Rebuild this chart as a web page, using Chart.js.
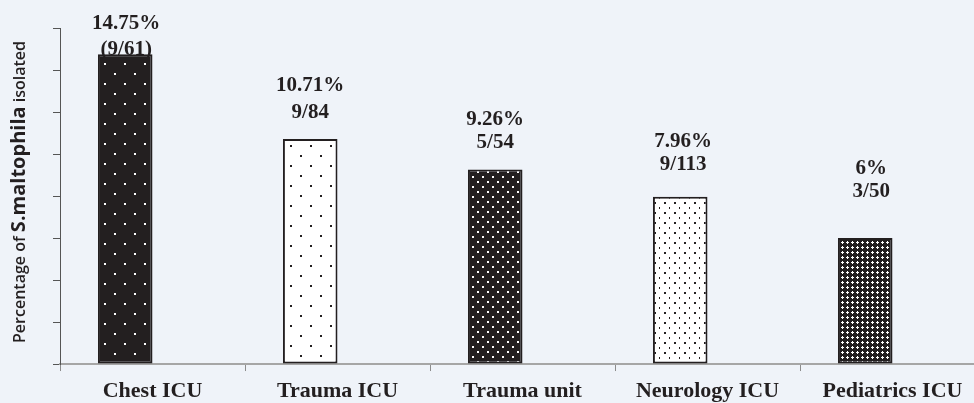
<!DOCTYPE html>
<html lang="en">
<head>
    <meta charset="UTF-8">
    <title>S. maltophila by unit</title>
    <script src="https://cdn.jsdelivr.net/npm/chart.js"></script>
    <style>
        html, body {
            margin: 0;
            padding: 0;
            background-color: #eff3f9;
            overflow: hidden;
        }
        .chart-box {
            position: absolute;
            left: 0;
            top: 0;
            width: 990px;
            height: 411px;
        }
    </style>
</head>
<body>
    <div class="chart-box">
        <canvas id="unitChart"></canvas>
    </div>

    <script>
        // data
        const categories = ['Chest ICU', 'Trauma ICU', 'Trauma unit', 'Neurology ICU', 'Pediatrics ICU'];
        const percentValues = [14.75, 10.71, 9.26, 7.96, 6];
        const percentLabels = ['14.75%', '10.71%', '9.26%', '7.96%', '6%'];
        const countLabels = ['(9/61)', '9/84', '5/54', '9/113', '3/50'];
        const yTicks = { min: 0, max: 16, step: 2 };

        const ink = '#231f20';

        // fill patterns, one per bar
        function makePattern(w, h, bg, fg, dots, size) {
            const c = document.createElement('canvas');
            c.width = w;
            c.height = h;
            const g = c.getContext('2d');
            g.fillStyle = bg;
            g.fillRect(0, 0, w, h);
            g.fillStyle = fg;
            dots.forEach(d => g.fillRect(d[0], d[1], size, size));
            return g.createPattern(c, 'repeat');
        }

        const patterns = [
            makePattern(20, 20, ink, '#ffffff', [[4, 3], [14, 13]], 2),
            makePattern(20, 20, '#ffffff', ink, [[10, 5], [0, 15]], 2),
            makePattern(10, 10, ink, '#ffffff', [[2, 6], [7, 1]], 2),
            makePattern(10, 10, '#ffffff', ink, [[4, 2], [9, 7]], 2),
            makePattern(5, 5, ink, '#ffffff', [[2, 1], [1, 2], [2, 2], [3, 2], [2, 3]], 1)
        ];

        // how far the two label lines sit above each bar top
        const line1Lift = [31, 54, 50, 55, 69];
        const line2Lift = [5, 27, 27, 32, 46];
        const labelNudge = [1, 0, 0, 3, 6];

        const valueLabels = {
            id: 'valueLabels',
            beforeDatasetsDraw(chart) {
                const ctx = chart.ctx;
                const bars = chart.getDatasetMeta(0).data;
                ctx.save();
                ctx.fillStyle = ink;
                ctx.font = 'bold 21px "Liberation Serif", "Times New Roman", serif';
                ctx.textAlign = 'center';
                ctx.textBaseline = 'middle';
                bars.forEach((bar, i) => {
                    const x = bar.x + labelNudge[i];
                    ctx.fillText(percentLabels[i], x, bar.y - line1Lift[i]);
                    ctx.fillText(countLabels[i], x, bar.y - line2Lift[i]);
                });
                ctx.restore();
            }
        };

        const yTitle = {
            id: 'yTitle',
            afterDraw(chart) {
                const ctx = chart.ctx;
                const parts = [
                    ['Percentage of ', '600 16px "Open Sans", sans-serif'],
                    ['S.maltophila', 'bold 20px "Open Sans", sans-serif'],
                    [' isolated', '600 16px "Open Sans", sans-serif']
                ];
                ctx.save();
                ctx.translate(25, 192);
                ctx.rotate(-Math.PI / 2);
                ctx.fillStyle = ink;
                ctx.textBaseline = 'alphabetic';
                ctx.textAlign = 'left';
                let total = 0;
                parts.forEach(p => { ctx.font = p[1]; total += ctx.measureText(p[0]).width; });
                let x = -total / 2;
                parts.forEach(p => {
                    ctx.font = p[1];
                    ctx.fillText(p[0], x, 0);
                    x += ctx.measureText(p[0]).width;
                });
                ctx.restore();
            }
        };

        new Chart(document.getElementById('unitChart'), {
            type: 'bar',
            data: {
                labels: categories,
                datasets: [{
                    data: percentValues,
                    backgroundColor: patterns,
                    borderColor: ink,
                    borderWidth: 2,
                    borderSkipped: false
                }, {
                    // empty partner series, keeps bars on the left half of each slot
                    data: categories.map(() => null)
                }]
            },
            options: {
                responsive: true,
                maintainAspectRatio: false,
                animation: false,
                barPercentage: 1,
                categoryPercentage: 0.59,
                layout: { padding: { left: 53, right: 5, top: 28, bottom: 0 } },
                plugins: {
                    legend: { display: false },
                    tooltip: { enabled: false }
                },
                scales: {
                    x: {
                        border: { color: '#a6a6a6', width: 2 },
                        grid: { drawOnChartArea: false, color: '#8c8c8c', tickLength: 7 },
                        ticks: {
                            color: ink,
                            padding: 7,
                            font: { family: '"Liberation Serif", "Times New Roman", serif', size: 22, weight: 'bold', lineHeight: 1.18 }
                        }
                    },
                    y: {
                        min: yTicks.min,
                        max: yTicks.max,
                        border: { color: '#555555', width: 1 },
                        grid: { drawOnChartArea: false, color: '#555555', tickLength: 7 },
                        ticks: { display: false, stepSize: yTicks.step }
                    }
                }
            },
            plugins: [valueLabels, yTitle]
        });
    </script>
</body>
</html>
